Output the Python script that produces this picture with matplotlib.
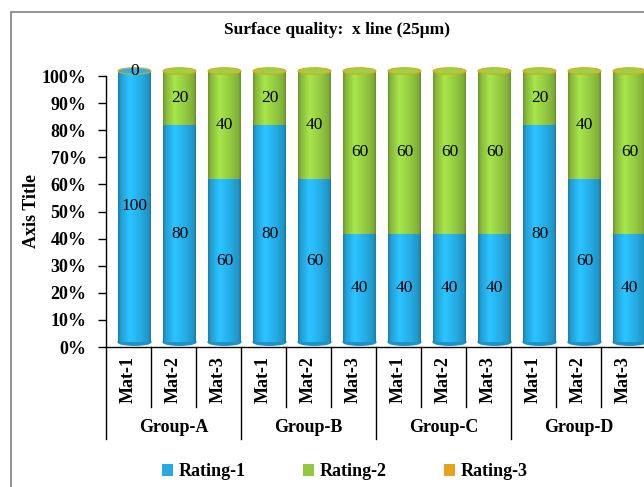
import numpy as np
import matplotlib
matplotlib.use("Agg")
import matplotlib.pyplot as plt
from matplotlib.patches import Ellipse, Rectangle
from matplotlib.transforms import ScaledTranslation
from matplotlib.colors import to_rgb

plt.rcParams['font.family'] = ['Liberation Serif', 'DejaVu Serif']

# data
groups = ["Group-A", "Group-B", "Group-C", "Group-D"]
materials = ["Mat-1", "Mat-2", "Mat-3"]
rating1 = [100, 80, 60, 80, 60, 40, 40, 40, 40, 80, 60, 40]
rating2 = [0, 20, 40, 20, 40, 60, 60, 60, 60, 20, 40, 60]
rating3 = [0, 0, 0, 0, 0, 0, 0, 0, 0, 0, 0, 0]
series_names = ["Rating-1", "Rating-2", "Rating-3"]
colors = ["#25abe3", "#92c840", "#e8a21c"]

fig = plt.figure(figsize=(6.44, 4.87), dpi=100)
# outer chart frame (runs off the right and bottom edges)
fig.patches.append(Rectangle((11/644, -0.1), 1.1, 1.1 - 12/487,
                             transform=fig.transFigure, fill=False,
                             edgecolor="#7f7f7f", lw=1.2))
ax = fig.add_axes([106/644, 140/487, 540/644, 271/487])

# 3D-ish offset of the bars (Excel cylinder depth)
trans = ax.transData + ScaledTranslation(6/100, 5/100, fig.dpi_scale_trans)

x = np.arange(len(rating1))
w = 0.73
profile = np.interp(np.linspace(0, 1, 60), [0, 0.08, 0.35, 0.7, 0.93, 1],
                    [0.75, 0.92, 1.15, 1.0, 0.87, 0.72])

def shaded(xc, b, h, c, z):
    base = np.array(to_rgb(c))
    img = np.clip(profile[:, None] * base[None, :], 0, 1)[None, :, :]
    ax.imshow(img, extent=[xc - w/2, xc + w/2, b, b + h], transform=trans,
              aspect='auto', interpolation='bilinear', zorder=z, clip_on=False)

bottom = np.zeros(len(x))
for vals, name, c in zip([rating1, rating2, rating3], series_names, colors):
    vals = np.array(vals, dtype=float)
    ax.bar(x, vals, w, bottom=bottom, color=c, label=name, transform=trans,
           clip_on=False, zorder=2)
    for xi, b, v in zip(x, bottom, vals):
        if v > 0:
            shaded(xi, b, v, c, 3)
    bottom = bottom + vals

# cylinder bottoms and tops
for xi, tot in zip(x, bottom):
    ax.add_patch(Ellipse((xi, 0), w, 2.4, transform=trans, color="#1a93c6",
                         zorder=1.5, clip_on=False))
    top_c = colors[0] if rating2[xi] == 0 else colors[1]
    ax.add_patch(Ellipse((xi, tot), w, 2.4, transform=trans,
                         facecolor=np.clip(np.array(to_rgb(top_c)) * 1.05, 0, 1),
                         edgecolor=colors[2], lw=0.8, zorder=4, clip_on=False))

# value labels (centred in each segment)
for xi in x:
    ax.text(xi, rating1[xi] / 2, str(rating1[xi]), transform=trans,
            ha='center', va='center', fontsize=12.5, zorder=6)
    ax.text(xi, rating1[xi] + rating2[xi] / 2, str(rating2[xi]), transform=trans,
            ha='center', va='center', fontsize=12.5, zorder=6)

ax.set_xlim(-0.5, len(x) - 0.5)
ax.set_ylim(0, 100)
ax.set_yticks(np.arange(0, 101, 10))
ax.set_yticklabels([f"{v}%" for v in range(0, 101, 10)], fontsize=13,
                   fontweight='bold')
ax.tick_params(axis='y', direction='out', length=6, width=1, pad=8)
ax.set_xticks([])
for s in ["top", "right"]:
    ax.spines[s].set_visible(False)
ax.spines["left"].set_linewidth(1)
ax.spines["bottom"].set_linewidth(1)
ax.set_ylabel("Axis Title", fontsize=13, fontweight='bold')
ax.yaxis.set_label_coords(-66/540, 0.5)

# multi-level category axis
xt = ax.get_xaxis_transform()
for k in range(len(x) + 1):
    depth = -92/271 if k % 3 == 0 else -60/271
    ax.plot([k - 0.5, k - 0.5], [0, depth], transform=xt, color="black",
            lw=1, clip_on=False)
for xi in x:
    ax.text(xi, -33/271, materials[xi % 3], transform=xt, rotation=90,
            ha='center', va='center', fontsize=13, fontweight='bold')
for gi, g in enumerate(groups):
    ax.text(gi * 3 + 1, -81/271, g, transform=xt, ha='center', va='center',
            fontsize=13, fontweight='bold')

fig.text(337/644, 1 - 30/487, "Surface quality:  x line (25\u03bcm)",
         ha='center', va='center', fontsize=12.5, fontweight='bold')

handles, labels = ax.get_legend_handles_labels()
fig.legend(handles, labels, loc='center', bbox_to_anchor=(345/644, 15/487),
           ncol=3, frameon=False, handlelength=0.6, handleheight=0.6,
           handletextpad=0.3, columnspacing=3.2,
           prop={'weight': 'bold', 'size': 13})

fig.savefig("out.png", dpi=100)
